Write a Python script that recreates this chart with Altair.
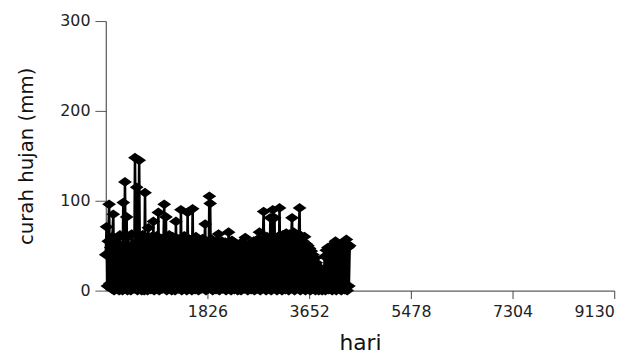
import altair as alt
import pandas as pd

# Daily rainfall (mm), one value every 15 days
rain_mm = [
    40, 71, 5, 55, 96, 8, 48, 2, 60, 85, 0, 52, 3, 58, 10, 45, 0, 62, 6, 50,
    0, 98, 2, 121, 4, 82, 0, 60, 12, 48, 0, 63, 7, 52, 2, 148, 9, 115, 0, 3,
    145, 5, 56, 0, 62, 10, 0, 109, 3, 58, 0, 70, 8, 54, 1, 60, 6, 77, 0, 52,
    4, 61, 9, 87, 0, 55, 12, 58, 2, 50, 96, 5, 82, 0, 57, 8, 62, 3, 49, 0,
    60, 11, 53, 0, 77, 6, 58, 2, 50, 9, 90, 0, 55, 4, 61, 7, 48, 0, 87, 10,
    57, 3, 52, 0, 91, 6, 56, 1, 60, 8, 50, 0, 54, 12, 47, 2, 58, 5, 51, 74,
    0, 55, 9, 2, 105, 97, 3, 57, 0, 49, 7, 53, 1, 56, 10, 63, 0, 50, 5, 55,
    2, 47, 8, 54, 0, 52, 11, 65, 3, 50, 0, 56, 6, 48, 1, 53, 9, 45, 0, 51,
    4, 49, 0, 54, 7, 46, 2, 59, 10, 50, 0, 44, 5, 52, 1, 48, 8, 55, 0, 47,
    6, 53, 2, 58, 65, 0, 56, 9, 52, 88, 3, 57, 0, 60, 11, 54, 4, 81, 0, 58,
    90, 7, 81, 2, 55, 0, 60, 10, 92, 3, 57, 0, 62, 6, 54, 1, 64, 9, 58, 0,
    63, 5, 60, 81, 2, 65, 0, 59, 8, 62, 3, 57, 92, 0, 61, 11, 55, 4, 60, 0,
    52, 7, 50, 1, 47, 0, 44, 6, 40, 2, 36, 0, 31, 5, 27, 0, 24, 3, 20, 0,
    18, 2, 38, 0, 45, 6, 48, 1, 44, 9, 50, 0, 46, 4, 49, 55, 0, 47, 8, 51,
    2, 45, 0, 52, 6, 49, 1, 53, 57, 0, 48, 5, 50,
]
step_days = 15
days = [i * step_days for i in range(len(rain_mm))]

x_ticks = [1826, 3652, 5478, 7304, 9130]
y_ticks = [0, 100, 200, 300]

df = pd.DataFrame({"hari": days, "curah": rain_mm})

diamond = "M-1,0L0,-0.7L1,0L0,0.7Z"
FONT = "DejaVu Sans"

base = alt.Chart(df).encode(
    x=alt.X(
        "hari:Q",
        scale=alt.Scale(domain=[0, 9130], nice=False, zero=False),
        axis=alt.Axis(
            values=x_ticks, format="d", title="hari", grid=False,
            tickSize=8, labelPadding=5, labelFontSize=16, labelFont=FONT,
            labelColor="#222", tickColor="#444", domainColor="#333",
            titleFont=FONT, titleFontSize=22, titleFontWeight="normal",
            titleColor="#111", titleBaseline="alphabetic", titleY=60,
        ),
    ),
    y=alt.Y(
        "curah:Q",
        scale=alt.Scale(domain=[0, 300], nice=False),
        axis=alt.Axis(
            values=y_ticks, format="d", title="curah hujan (mm)", grid=False,
            tickSize=11, labelPadding=5, labelFontSize=16, labelFont=FONT,
            labelColor="#222", tickColor="#555", domainColor="#333",
            titleFont=FONT, titleFontSize=20, titleFontWeight="normal",
            titleColor="#111", titleBaseline="middle", titleX=-80,
        ),
    ),
)

line = base.mark_line(color="black", strokeWidth=2.6)
pts = base.mark_point(shape=diamond, filled=True, color="black", size=196, opacity=1)

chart = (
    (line + pts)
    .properties(
        width=515,
        height=273,
        autosize=alt.AutoSizeParams(type="none"),
        padding={"left": 99, "top": 11, "right": 20, "bottom": 64},
        background="white",
    )
    .configure_view(stroke=None)
)

chart.save("out.html", embed_options={"renderer": "svg", "actions": False})
